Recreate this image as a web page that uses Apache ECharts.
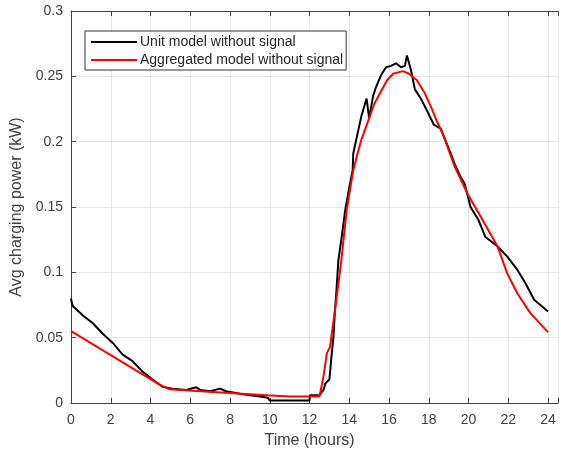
<!DOCTYPE html>
<html>
<head>
<meta charset="utf-8">
<script src="https://cdn.jsdelivr.net/npm/echarts@6/dist/echarts.min.js"></script>
<style>html,body{margin:0;padding:0;background:#fff}#c{width:561px;height:454px}</style>
</head>
<body>
<div id="c"></div>
<script>
var seriesNames = ['Unit model without signal', 'Aggregated model without signal'];
var xTickLabels = ['0','2','4','6','8','10','12','14','16','18','20','22','24'];

var hoursUnit = [0,0.05,0.1,0.6,1.1,1.6,2.1,2.6,3.1,3.6,4.1,4.6,5.1,5.8,6.3,6.5,7.0,7.5,7.8,8.5,9.0,9.5,9.9,10.0,12.0,12.02,12.5,12.7,12.8,13.0,13.1,13.2,13.28,13.35,13.45,13.6,13.8,14.0,14.17,14.2,14.4,14.6,14.87,15.0,15.2,15.35,15.6,15.85,16.1,16.35,16.6,16.8,16.9,17.1,17.3,17.6,17.9,18.25,18.6,19.1,19.3,19.6,19.8,20.1,20.5,20.85,21.45,21.95,22.45,22.85,23.3,24];
var powerUnit = [0.080,0.076,0.074,0.067,0.061,0.053,0.046,0.037,0.032,0.024,0.018,0.0125,0.011,0.010,0.012,0.010,0.009,0.011,0.009,0.007,0.006,0.005,0.004,0.002,0.002,0.006,0.006,0.010,0.015,0.018,0.035,0.050,0.071,0.085,0.109,0.125,0.148,0.165,0.178,0.191,0.205,0.219,0.233,0.218,0.235,0.242,0.251,0.257,0.258,0.260,0.257,0.258,0.266,0.255,0.240,0.233,0.224,0.213,0.210,0.191,0.183,0.173,0.168,0.150,0.140,0.127,0.120,0.112,0.102,0.092,0.079,0.070];

var hoursAgg = [0,4.45,4.95,6.5,8.17,9.85,11,12.5,12.7,12.87,13.03,13.28,13.6,13.87,14.2,14.4,14.6,15.0,15.26,15.9,16.2,16.7,17.0,17.4,17.8,18.1,18.4,18.75,19.3,19.95,20.6,21.45,21.95,22.45,23.1,24];
var powerAgg = [0.055,0.014,0.0105,0.009,0.0075,0.006,0.005,0.005,0.020,0.038,0.043,0.071,0.109,0.148,0.178,0.190,0.201,0.218,0.229,0.247,0.252,0.254,0.252,0.247,0.237,0.227,0.216,0.204,0.181,0.160,0.143,0.120,0.099,0.084,0.069,0.054];

function zip(a, b) { return a.map(function (v, i) { return [v, b[i]]; }); }

var axisColor = '#404040';
var chart = echarts.init(document.getElementById('c'));
chart.setOption({
  animation: false,
  backgroundColor: '#fff',
  grid: { left: 71, right: 0, top: 11, bottom: 51 },
  legend: {
    orient: 'vertical',
    left: 85, top: 31,
    padding: [4, 3, 3, 5],
    itemWidth: 46, itemHeight: 14, itemGap: 4,
    itemStyle: { opacity: 0 },
    backgroundColor: '#fff',
    borderColor: '#333', borderWidth: 1,
    textStyle: { fontFamily: 'Liberation Sans, Arial', fontSize: 14, color: '#262626', padding: [0,0,0,-2] },
    data: seriesNames
  },
  xAxis: [{
    type: 'value', min: 0, max: 24.5, interval: 2,
    name: 'Time (hours)', nameLocation: 'middle', nameGap: 30,
    nameTextStyle: { fontFamily: 'Liberation Sans, Arial', fontSize: 16, color: axisColor, padding: [0, 10, 0, 0] },
    axisLine: { show: true, lineStyle: { color: axisColor, width: 1 } },
    axisTick: { show: true, inside: true, length: 5, lineStyle: { color: axisColor } },
    axisLabel: { fontFamily: 'Liberation Sans, Arial', fontSize: 14, color: axisColor, margin: 10,
      formatter: function (v) { var s = String(v); return xTickLabels.indexOf(s) >= 0 ? s : ''; } },
    splitLine: { show: true, lineStyle: { color: '#e6e6e6', width: 1 } }
  }, {
    type: 'value', min: 0, max: 24.5, interval: 2, position: 'top',
    axisLine: { show: true, lineStyle: { color: axisColor, width: 1 } },
    axisTick: { show: true, inside: true, length: 5, lineStyle: { color: axisColor } },
    axisLabel: { show: false },
    splitLine: { show: false }
  }],
  yAxis: {
    type: 'value', min: 0, max: 0.3, interval: 0.05,
    name: 'Avg charging power (kW)', nameLocation: 'middle', nameGap: 39,
    nameTextStyle: { fontFamily: 'Liberation Sans, Arial', fontSize: 16, color: axisColor },
    axisLine: { show: true, lineStyle: { color: axisColor, width: 1 } },
    axisTick: { show: true, inside: true, length: 5, lineStyle: { color: axisColor } },
    axisLabel: { fontFamily: 'Liberation Sans, Arial', fontSize: 14, color: axisColor, margin: 8 },
    splitLine: { show: true, lineStyle: { color: '#e6e6e6', width: 1 } }
  },
  series: [{
    name: seriesNames[0], type: 'line', symbol: 'none',
    data: zip(hoursUnit, powerUnit),
    lineStyle: { color: '#000', width: 2 }, itemStyle: { color: '#000' }, z: 2
  }, {
    name: seriesNames[1], type: 'line', symbol: 'none',
    data: zip(hoursAgg, powerAgg),
    lineStyle: { color: '#ff0000', width: 2 }, itemStyle: { color: '#ff0000' }, z: 3
  }]
});
</script>
</body>
</html>
